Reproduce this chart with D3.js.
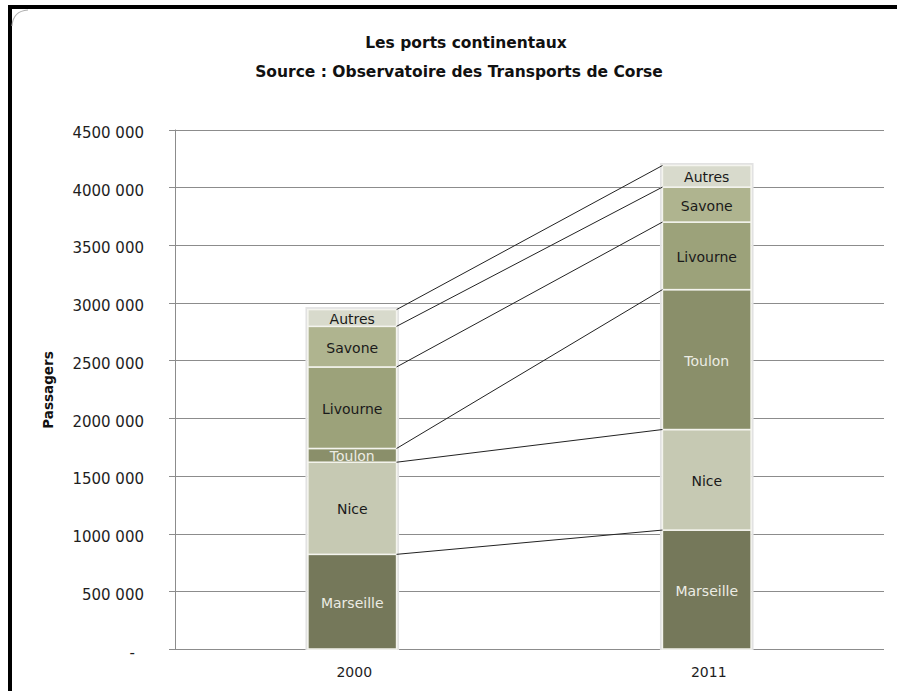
<!DOCTYPE html>
<html><head><meta charset="utf-8">
<script src="https://cdn.jsdelivr.net/npm/d3@7"></script>
<style>body{margin:0;background:#fff}svg{display:block}</style>
</head><body><svg id="c" width="897" height="691"></svg>
<script>
const years = ["2000", "2011"];
const ports = ["Marseille", "Nice", "Toulon", "Livourne", "Savone", "Autres"];
const values2000 = [820000, 798000, 119000, 706000, 352000, 145000];
const values2011 = [1030000, 871000, 1212000, 585000, 303000, 187000];
const yTicks = [0, 500000, 1000000, 1500000, 2000000, 2500000, 3000000, 3500000, 4000000, 4500000];
const yTickLabels = ["-", "500 000", "1000 000", "1500 000", "2000 000", "2500 000", "3000 000", "3500 000", "4000 000", "4500 000"];
const portColors = ["#75785a", "#c6c9b3", "#8a8f6a", "#9ca27a", "#afb48f", "#d8dacc"];
const labelColors = ["#ecece4", "#1a1a1a", "#ecece4", "#1a1a1a", "#1a1a1a", "#1a1a1a"];
const title1 = "Les ports continentaux";
const title2 = "Source : Observatoire des Transports de Corse";
const yTitle = "Passagers";

(function () {
const FONT = "'DejaVu Sans', sans-serif";
const svg = d3.select("#c");
const W = 897, H = 691;
const pL = 175, pR = 884, pT = 129.5, pB = 649;

// frame
svg.append("rect").attr("x", 0).attr("y", 0).attr("width", W).attr("height", H).attr("fill", "#fff");
svg.append("rect").attr("x", 8).attr("y", 5).attr("width", W - 8).attr("height", 4).attr("fill", "#000");
svg.append("rect").attr("x", 8).attr("y", 5).attr("width", 4).attr("height", H - 5).attr("fill", "#000");
svg.append("path").attr("d", "M12,26 Q13,11 28,10").attr("fill", "none").attr("stroke", "#b0b0b0").attr("stroke-width", 1.2);

const table = years.map((yr, i) => {
  const row = { year: yr };
  const vals = i === 0 ? values2000 : values2011;
  ports.forEach((p, j) => row[p] = vals[j]);
  return row;
});
const series = d3.stack().keys(ports)(table);

const x = d3.scaleBand().domain(years).range([pL, pR]).paddingInner(0.75).paddingOuter(0.375);
const y = d3.scaleLinear().domain([0, 4500000]).range([pB, pT]);

// gridlines
const g = svg.append("g");
g.selectAll("line.grid").data(yTicks).join("line")
  .attr("x1", pL - 6).attr("x2", pR)
  .attr("y1", d => Math.round(y(d)) + 0.5).attr("y2", d => Math.round(y(d)) + 0.5)
  .attr("stroke", "#8c8c8c").attr("stroke-width", 1);
g.append("line").attr("x1", pL + 0.5).attr("x2", pL + 0.5).attr("y1", y(4500000)).attr("y2", pB + 1)
  .attr("stroke", "#8c8c8c");

// y labels
g.selectAll("text.yl").data(yTicks).join("text")
  .attr("x", (d, i) => i === 0 ? 135 : 144)
  .attr("y", d => y(d) + 8.5)
  .attr("text-anchor", "end")
  .attr("font-family", FONT).attr("font-size", 15).attr("fill", "#1e1e1e")
  .text((d, i) => yTickLabels[i]);

// axis title
svg.append("text").attr("transform", "translate(53,390) rotate(-90)")
  .attr("text-anchor", "middle").attr("font-family", FONT).attr("font-weight", "bold")
  .attr("font-size", 13.5).attr("fill", "#111").text(yTitle);

// titles
svg.append("text").attr("x", 466).attr("y", 48).attr("text-anchor", "middle")
  .attr("font-family", FONT).attr("font-weight", "bold").attr("font-size", 15.5).attr("fill", "#111").text(title1);
svg.append("text").attr("x", 459).attr("y", 77).attr("text-anchor", "middle")
  .attr("font-family", FONT).attr("font-weight", "bold").attr("font-size", 15.5).attr("fill", "#111").text(title2);

// bar shadows
svg.selectAll("rect.shadow").data(years).join("rect")
  .attr("x", d => x(d) - 1.5).attr("width", x.bandwidth() + 3)
  .attr("y", (d, i) => y(series[series.length - 1][i][1]) - 1.5)
  .attr("height", (d, i) => y(0) - y(series[series.length - 1][i][1]) + 1.5)
  .attr("fill", "none").attr("stroke", "#e2e2e2").attr("stroke-width", 2);

// bars
const layers = svg.selectAll("g.layer").data(series).join("g")
  .attr("fill", (d, i) => portColors[i]);
layers.selectAll("rect").data(d => d.map((v, i) => ({ v, year: years[i] }))).join("rect")
  .attr("x", d => x(d.year)).attr("width", x.bandwidth())
  .attr("y", d => y(d.v[1])).attr("height", d => y(d.v[0]) - y(d.v[1]))
  .attr("stroke", "#f4f4ee").attr("stroke-width", 1.5);

// connector lines
const x0r = x(years[0]) + x.bandwidth(), x1l = x(years[1]);
svg.selectAll("line.conn").data(series).join("line")
  .attr("x1", x0r).attr("x2", x1l)
  .attr("y1", d => y(d[0][1])).attr("y2", d => y(d[1][1]))
  .attr("stroke", "#222").attr("stroke-width", 1);

// labels
series.forEach((s, si) => {
  s.forEach((v, i) => {
    svg.append("text")
      .attr("x", x(years[i]) + x.bandwidth() / 2)
      .attr("y", (y(v[0]) + y(v[1])) / 2 + 6)
      .attr("text-anchor", "middle")
      .attr("font-family", FONT).attr("font-size", 14)
      .attr("fill", labelColors[si]).text(ports[si]);
  });
});

// x labels
svg.selectAll("text.xl").data(years).join("text")
  .attr("x", d => x(d) + x.bandwidth() / 2 + 2).attr("y", 677)
  .attr("text-anchor", "middle").attr("font-family", FONT).attr("font-size", 14)
  .attr("fill", "#1e1e1e").text(d => d);
})();
</script>
</body></html>
